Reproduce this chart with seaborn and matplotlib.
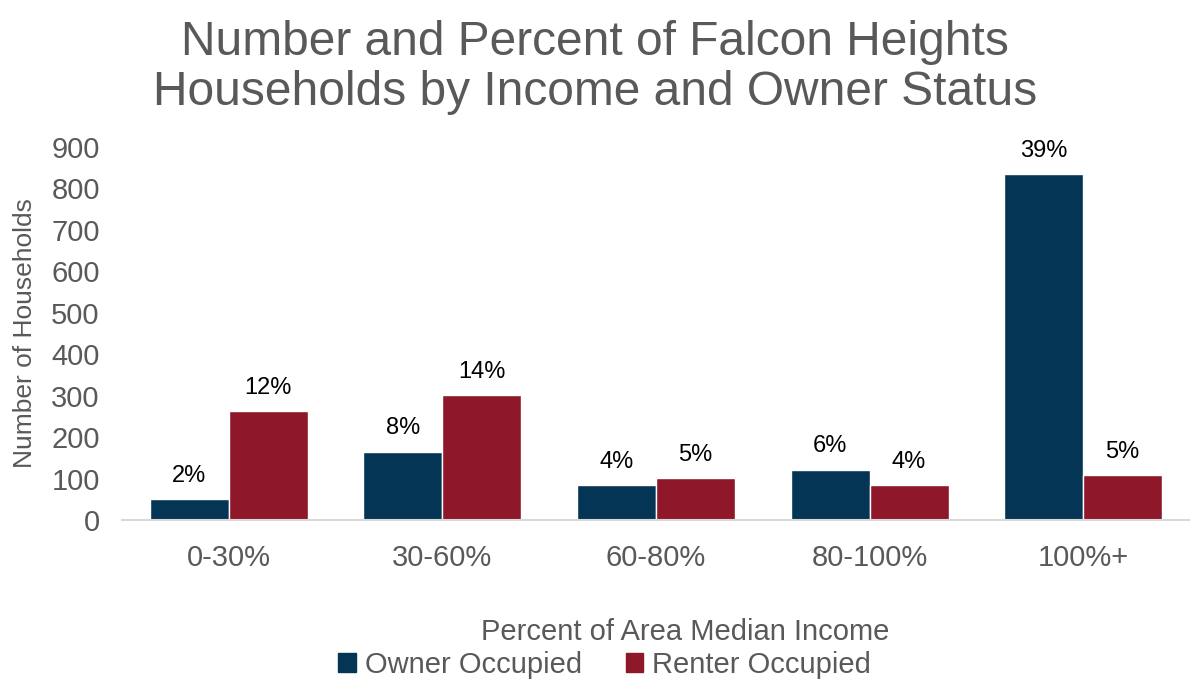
import matplotlib
matplotlib.use('Agg')
import matplotlib.pyplot as plt
from matplotlib.patches import Patch
import pandas as pd
import seaborn as sns

# data
income_bands = ['0-30%', '30-60%', '60-80%', '80-100%', '100%+']
owner_counts = [51, 166, 85, 122, 833]
renter_counts = [263, 301, 102, 85, 109]
owner_pct = ['2%', '8%', '4%', '6%', '39%']
renter_pct = ['12%', '14%', '5%', '4%', '5%']

df = pd.DataFrame({
    'band': income_bands * 2,
    'count': owner_counts + renter_counts,
    'status': ['Owner Occupied'] * 5 + ['Renter Occupied'] * 5,
})

sns.set_theme(style='white')
plt.rcParams['font.family'] = ['Liberation Sans', 'DejaVu Sans']
grey = '#595959'
palette = {'Owner Occupied': '#053554', 'Renter Occupied': '#8E1829'}

fig = plt.figure(figsize=(11.9, 6.81), dpi=100)
ax = fig.add_axes([0.1025, 0.2357, 0.8975, 0.549])

sns.barplot(data=df, x='band', y='count', hue='status', palette=palette,
            width=0.74, saturation=1, ax=ax, legend=False)

# percent labels on top of bars
for cont, labs in zip(ax.containers, [owner_pct, renter_pct]):
    ax.bar_label(cont, labels=labs, padding=9, fontsize=17, color='black')

ax.set_ylim(0, 900)
ax.set_xlim(-0.5, 4.5)
ax.set_yticks(range(0, 901, 100))
ax.tick_params(axis='y', labelsize=21, labelcolor=grey, length=0, pad=16)
ax.tick_params(axis='x', labelsize=21, labelcolor=grey, length=0, pad=17)
sns.despine(ax=ax, left=True)
ax.spines['bottom'].set_color('#D9D9D9')
ax.spines['bottom'].set_linewidth(1.5)

ax.set_ylabel('Number of Households', fontsize=19, color=grey)
ax.yaxis.set_label_coords(-0.08, 0.5)
ax.set_xlabel('Percent of Area Median Income', fontsize=21, color=grey)
ax.xaxis.set_label_coords(0.527, -0.262)

fig.suptitle('Number and Percent of Falcon Heights\nHouseholds by Income and Owner Status',
             fontsize=34.5, color=grey, y=0.97, linespacing=1.12)

handles = [Patch(color=palette[k]) for k in palette]
fig.legend(handles, list(palette), loc='center', bbox_to_anchor=(0.508, 0.024),
           ncol=2, frameon=False, fontsize=21, labelcolor=grey,
           handlelength=0.6, handleheight=0.6, handletextpad=0.3, columnspacing=1.5)

fig.savefig('out.png', dpi=100)
